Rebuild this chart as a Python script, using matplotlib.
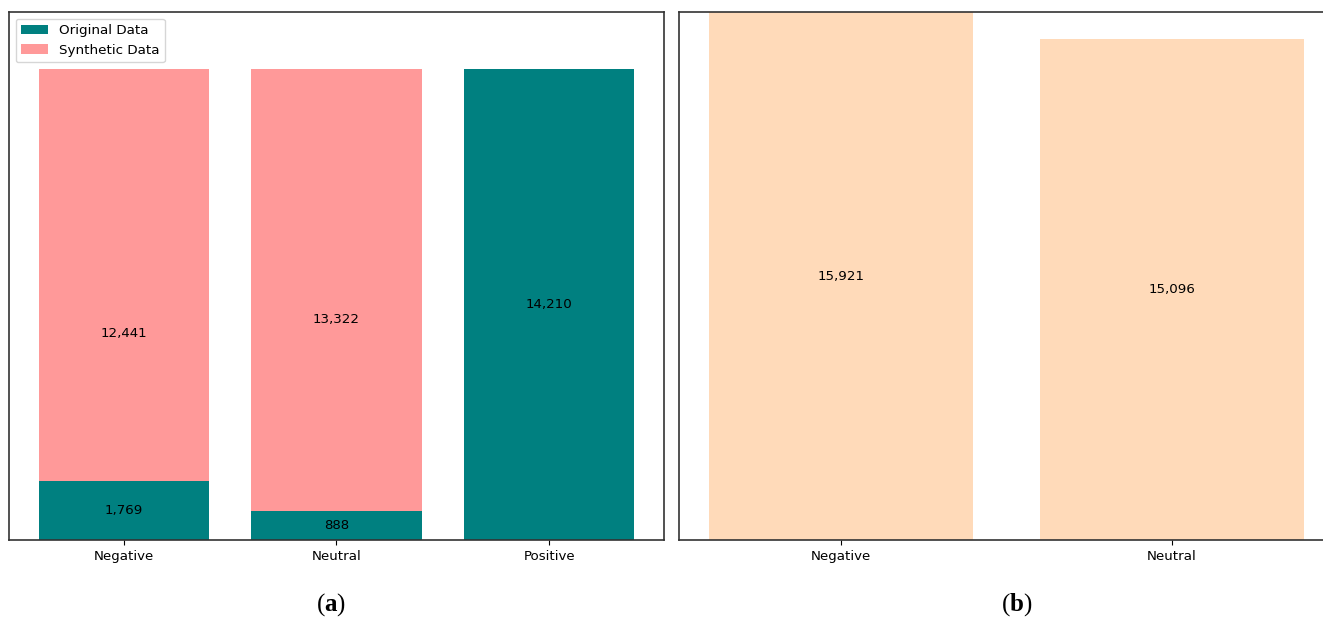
import matplotlib
matplotlib.use("Agg")
import matplotlib.pyplot as plt
import numpy as np

# Class counts before and after augmentation
classes_a = ["Negative", "Neutral", "Positive"]
original_counts = [1769, 888, 14210]
synthetic_counts = [12441, 13322, 0]

classes_b = ["Negative", "Neutral"]
combined_counts = [15921, 15096]

TEAL = "#008080"
PINK = "#FF9999"
PEACH = "#FFDAB9"

plt.rcParams["mathtext.fontset"] = "custom"
plt.rcParams["mathtext.bf"] = "Liberation Serif:bold"
plt.rcParams["mathtext.rm"] = "Liberation Serif"

FS = 9.6

fig = plt.figure(figsize=(13.23, 6.21), dpi=100)
ax1 = fig.add_axes([9 / 1323, 81 / 621, 655 / 1323, 528 / 621])
ax2 = fig.add_axes([679 / 1323, 81 / 621, 655 / 1323, 528 / 621])

ymax = max(combined_counts)

# (a) stacked original + synthetic
x_a = np.arange(len(classes_a))
ax1.bar(x_a, original_counts, width=0.8, color=TEAL, label="Original Data")
ax1.bar(x_a, synthetic_counts, width=0.8, bottom=original_counts,
        color=PINK, label="Synthetic Data")
for xi, o, s in zip(x_a, original_counts, synthetic_counts):
    if o:
        ax1.text(xi, o / 2, f"{o:,}", ha="center", va="center", fontsize=FS)
    if s:
        ax1.text(xi, s / 2, f"{s:,}", ha="center", va="center", fontsize=FS)
ax1.set_xticks(x_a)
ax1.set_xticklabels(classes_a, fontsize=FS)
ax1.set_ylim(0, ymax)
ax1.set_yticks([])
ax1.legend(loc="upper left", fontsize=9.7)

# (b) resulting totals
x_b = np.arange(len(classes_b))
ax2.bar(x_b, combined_counts, width=0.8, color=PEACH)
for xi, v in zip(x_b, combined_counts):
    ax2.text(xi, v / 2, f"{v:,}", ha="center", va="center", fontsize=FS)
ax2.set_xticks(x_b)
ax2.set_xticklabels(classes_b, fontsize=FS)
ax2.set_ylim(0, ymax)
ax2.set_yticks([])

for ax in (ax1, ax2):
    for sp in ax.spines.values():
        sp.set_color("#333333")
        sp.set_linewidth(1.2)

fig.text(331 / 1323, (621 - 605) / 621, r"($\mathbf{a}$)", ha="center",
         va="center", fontsize=18, family="Liberation Serif")
fig.text(1017 / 1323, (621 - 605) / 621, r"($\mathbf{b}$)", ha="center",
         va="center", fontsize=18, family="Liberation Serif")

fig.savefig("out.png", dpi=100)
